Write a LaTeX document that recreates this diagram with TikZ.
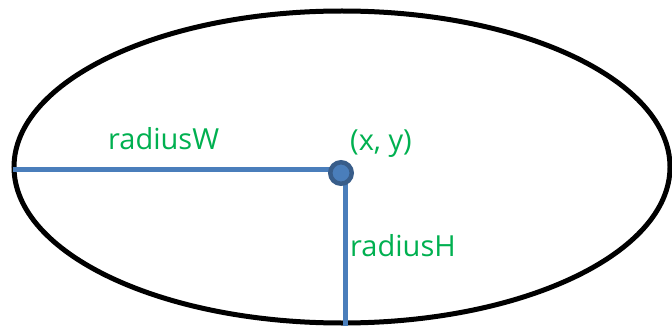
\documentclass[tikz,border=0pt]{standalone}
\usepackage{fontspec}
\setmainfont{Open Sans}
\definecolor{lblue}{RGB}{74,126,187}
\definecolor{dblue}{RGB}{56,93,138}
\definecolor{lgreen}{RGB}{0,176,80}
\tikzset{
  bluebar/.style={draw=lblue, line width=5pt},
  lbl/.style={inner sep=0pt, anchor=base west, text=lgreen, font=\fontsize{29}{33}\selectfont},
  ctrdot/.style={circle, fill=lblue, draw=dblue, line width=4.5pt, minimum size=21.5pt, inner sep=0pt}
}
\begin{document}
\begin{tikzpicture}[x=1pt,y=-1pt]
\useasboundingbox (0,0) rectangle (672,326);
\draw[line width=5pt] (342,167) ellipse [x radius=328pt, y radius=156pt];
\coordinate (L) at (13,169.5);
\coordinate (B) at (345,330);
\coordinate (V) at (345,173);
\coordinate (H) at (341,169.5);
\draw[bluebar] (L) -- (H);
\draw[bluebar] (V) -- (B);
\node[ctrdot] (c) at (341,173) {};
\node[lbl] (rw) at (108,149.5) {radiusW};
\node[lbl] (xy) at (350,150.5) {(x,\ y)};
\node[lbl] (rh) at (350,256) {radiusH};
\end{tikzpicture}
\end{document}
